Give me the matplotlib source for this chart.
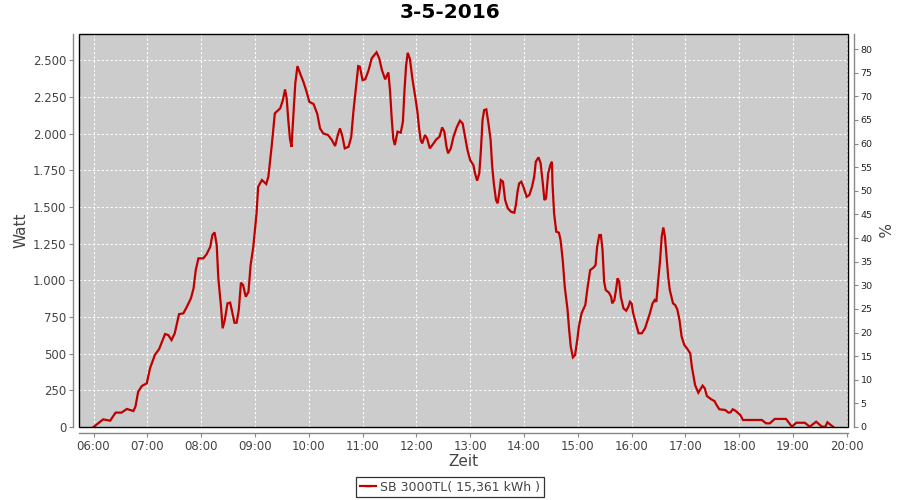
import matplotlib
matplotlib.use("Agg")
import matplotlib.pyplot as plt
from matplotlib.ticker import FuncFormatter, FixedLocator, MultipleLocator
from matplotlib.patches import Rectangle
from matplotlib.lines import Line2D

title = "3-5-2016"
series_name = "SB 3000TL( 15,361 kWh )"

hours = [
    6.00, 6.18, 6.31, 6.41, 6.52, 6.62, 6.74, 6.78, 6.83, 6.90, 6.99, 7.05, 7.14, 7.22, 7.28,
    7.33, 7.39, 7.45, 7.51, 7.59, 7.67, 7.73, 7.81, 7.86, 7.90, 7.95, 8.04, 8.10, 8.17, 8.21,
    8.25, 8.29, 8.32, 8.37, 8.40, 8.44, 8.49, 8.54, 8.57, 8.62, 8.66, 8.70, 8.74, 8.78, 8.83,
    8.88, 8.92, 8.97, 9.03, 9.06, 9.13, 9.21, 9.25, 9.31, 9.37, 9.47, 9.52, 9.56, 9.59, 9.62,
    9.65, 9.68, 9.71, 9.75, 9.79, 9.84, 9.90, 9.96, 10.01, 10.09, 10.16, 10.21, 10.27, 10.36,
    10.43, 10.49, 10.54, 10.58, 10.62, 10.67, 10.74, 10.79, 10.83, 10.88, 10.92, 10.95, 11.00,
    11.05, 11.11, 11.17, 11.26, 11.31, 11.36, 11.42, 11.48, 11.51, 11.54, 11.57, 11.60, 11.65,
    11.71, 11.75, 11.78, 11.81, 11.84, 11.88, 11.93, 11.98, 12.02, 12.05, 12.08, 12.11, 12.16,
    12.20, 12.25, 12.32, 12.37, 12.43, 12.48, 12.52, 12.56, 12.59, 12.64, 12.69, 12.75, 12.81,
    12.86, 12.90, 12.95, 13.00, 13.06, 13.09, 13.13, 13.17, 13.20, 13.23, 13.26, 13.30, 13.34,
    13.38, 13.41, 13.44, 13.48, 13.51, 13.54, 13.57, 13.61, 13.65, 13.70, 13.76, 13.82, 13.85,
    13.88, 13.91, 13.95, 13.99, 14.05, 14.10, 14.15, 14.19, 14.22, 14.27, 14.31, 14.35, 14.38,
    14.41, 14.45, 14.49, 14.52, 14.53, 14.56, 14.60, 14.65, 14.68, 14.72, 14.76, 14.81, 14.84,
    14.87, 14.91, 14.95, 14.99, 15.02, 15.07, 15.14, 15.18, 15.23, 15.29, 15.33, 15.36, 15.40,
    15.43, 15.46, 15.49, 15.52, 15.58, 15.62, 15.64, 15.68, 15.71, 15.74, 15.77, 15.80, 15.85,
    15.90, 15.94, 15.97, 16.00, 16.03, 16.08, 16.13, 16.19, 16.25, 16.29, 16.34, 16.39, 16.43,
    16.46, 16.49, 16.53, 16.56, 16.59, 16.62, 16.65, 16.68, 16.71, 16.77, 16.81, 16.85, 16.89,
    16.93, 16.98, 17.03, 17.09, 17.12, 17.18, 17.24, 17.32, 17.36, 17.40, 17.48, 17.54, 17.58,
    17.63, 17.74, 17.80, 17.84, 17.88, 17.93, 18.02, 18.07, 18.42, 18.50, 18.57, 18.66, 18.87,
    18.91, 18.98, 19.06, 19.22, 19.31, 19.43, 19.54, 19.60, 19.64, 19.70, 19.75,
]

watt = [
    0, 52, 43, 98, 98, 123, 109, 139, 241, 280, 298, 400, 491, 532, 588,
    634, 627, 593, 639, 770, 775, 816, 877, 946, 1070, 1150, 1150, 1177, 1229, 1309,
    1327, 1241, 1014, 820, 673, 730, 843, 848, 798, 711, 711, 798, 984, 968, 888,
    922, 1104, 1229, 1457, 1638, 1684, 1657, 1707, 1911, 2139, 2173, 2230, 2302, 2241, 2093,
    1968, 1911, 2093, 2343, 2461, 2411, 2355, 2286, 2218, 2202, 2134, 2036, 2002, 1991,
    1957, 1916, 1991, 2036, 1991, 1900, 1911, 1979, 2150, 2320, 2461, 2457, 2366,
    2371, 2430, 2514, 2555, 2514, 2434, 2371, 2418, 2298, 2116, 1968, 1923, 2014,
    2007, 2082, 2298, 2468, 2552, 2510, 2366, 2250, 2150, 2040, 1957, 1934, 1991,
    1968, 1900, 1934, 1961, 1979, 2043, 2014, 1911, 1866, 1900, 1979, 2043, 2089,
    2070, 1991, 1889, 1820, 1786, 1730, 1680, 1730, 1889, 2093, 2161, 2166, 2070,
    1957, 1775, 1661, 1548, 1525, 1593, 1684, 1673, 1548, 1491, 1468, 1461, 1514,
    1604, 1661, 1673, 1638, 1570, 1582, 1638, 1707, 1809, 1839, 1798, 1661, 1548,
    1559, 1730, 1786, 1809, 1661, 1457, 1332, 1325, 1275, 1139, 950, 800, 661,
    547, 475, 491, 593, 684, 775, 832, 946, 1070, 1086, 1104, 1229, 1309,
    1309, 1207, 991, 934, 916, 888, 843, 866, 934, 1014, 991, 888, 809,
    793, 820, 854, 843, 775, 707, 639, 639, 673, 718, 775, 843, 866,
    854, 980, 1139, 1298, 1361, 1298, 1161, 1025, 934, 843, 832, 802, 730,
    616, 559, 536, 502, 411, 286, 234, 282, 264, 211, 189, 177, 150,
    121, 116, 98, 100, 121, 111, 82, 48, 48, 25, 25, 55, 55,
    36, 2, 29, 29, 2, 36, 2, 2, 32, 14, 0,
]

x_ticks = list(range(6, 21))
x_tick_labels = ["%02d:00" % h for h in x_ticks]

line_color = "#c00000"
gray = "#888888"
text_col = "#444444"

fig = plt.figure(figsize=(9, 5), dpi=100)
ax = fig.add_axes([79 / 900, 1 - 427 / 500, (848 - 79) / 900, (427 - 34) / 500])
ax.set_facecolor("#cccccc")

ax.plot(hours, watt, color=line_color, lw=1.6, zorder=3, solid_joinstyle="miter")

ax.set_xlim(5.7305, 20.022)
ax.set_ylim(0, 2680)
ax.xaxis.set_major_locator(FixedLocator(x_ticks))
ax.set_xticklabels(x_tick_labels)
ax.yaxis.set_major_locator(MultipleLocator(250))
ax.yaxis.set_major_formatter(FuncFormatter(lambda v, p: "{:,.0f}".format(v).replace(",", ".")))

ax.grid(True, color="white", linestyle=(0, (2, 2)), linewidth=0.8)
ax.set_axisbelow(True)

for s in ["top", "right"]:
    ax.spines[s].set_visible(False)
for s in ["left", "bottom"]:
    ax.spines[s].set_position(("outward", 4))
    ax.spines[s].set_color(gray)
    ax.spines[s].set_linewidth(1.0)
ax.tick_params(axis="both", colors=gray, labelcolor=text_col, labelsize=8.5, length=3, width=0.8, direction="out")
ax.tick_params(axis="x", pad=2)
ax.tick_params(axis="y", pad=2)

ax.add_patch(Rectangle((0, 0), 1, 1, transform=ax.transAxes, fill=False,
                       edgecolor="black", lw=1.0, zorder=5, clip_on=False))

ax2 = ax.twinx()
ax2.set_ylim(0, 83.2)
ax2.yaxis.set_major_locator(MultipleLocator(5))
for s in ["top", "left", "bottom"]:
    ax2.spines[s].set_visible(False)
ax2.spines["right"].set_position(("outward", 4))
ax2.spines["right"].set_color(gray)
ax2.spines["right"].set_linewidth(1.0)
ax2.tick_params(axis="y", colors=gray, labelcolor="#222222", labelsize=6.8, length=3, width=0.8, pad=2)

ax.set_ylabel("Watt", fontsize=11, color=text_col, labelpad=3)
ax.set_xlabel("Zeit", fontsize=11, color=text_col, labelpad=1)
ax2.set_ylabel("%", fontsize=11, color=text_col, rotation=-90, labelpad=12)

fig.text(0.5, 1 - 13 / 500, title, ha="center", va="center", fontsize=14.5, fontweight="bold")

handle = Line2D([], [], color=line_color, lw=1.6, marker="_", markersize=4)
leg = fig.legend([handle], [series_name], loc="center", bbox_to_anchor=(450 / 900, 1 - 487 / 500),
                 frameon=True, fancybox=False, fontsize=9, handlelength=1.3, handletextpad=0.35,
                 borderpad=0.3, borderaxespad=0)
leg.get_frame().set_edgecolor("black")
leg.get_frame().set_linewidth(0.9)
for t in leg.get_texts():
    t.set_color(text_col)

fig.savefig("out.png", dpi=100)
